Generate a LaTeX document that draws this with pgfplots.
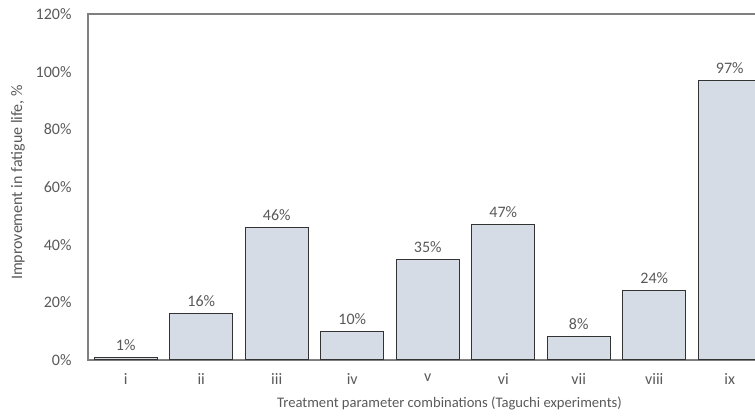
\documentclass[border=0pt]{standalone}
\usepackage{pgfplots}
\pgfplotsset{compat=1.18}
\usepackage{fontspec}
\setmainfont{Carlito}
\definecolor{barfill}{HTML}{D6DCE5}
\definecolor{txt}{HTML}{595959}
\definecolor{framegray}{HTML}{7F7F7F}
\begin{document}
\begin{tikzpicture}
\begin{axis}[
    scale only axis,
    width=679.5pt, height=346pt,
    xmin=-0.5, xmax=8.5,
    ymin=0, ymax=120,
    ybar, bar width=63pt,
    xtick={0,...,8},
    xticklabels={i,ii,iii,iv,v,vi,vii,viii,ix},
    ytick={0,20,...,120},
    yticklabel={\pgfmathprintnumber{\tick}\%},
    /pgf/number format/assume math mode=true,
    major tick length=0pt,
    axis line style={framegray, line width=1.3pt},
    tick label style={font=\fontsize{16}{18}\selectfont, text=txt},
    xticklabel style={yshift=-10pt},
    yticklabel style={xshift=-13pt},
    xlabel={Treatment parameter combinations (Taguchi experiments)},
    ylabel={Improvement in fatigue life, \%},
    xlabel style={at={(axis description cs:0.532,0)}, anchor=center, yshift=-43pt,
        font=\fontsize{14.6}{17}\selectfont, text=txt},
    ylabel style={at={(axis description cs:-0.103,0.513)}, anchor=center,
        font=\fontsize{16}{18}\selectfont, text=txt},
    nodes near coords={\pgfmathprintnumber{\pgfplotspointmeta}\%},
    nodes near coords style={font=\fontsize{16}{18}\selectfont, text=txt, yshift=3pt},
]
\addplot[fill=barfill, draw=black!80, line width=1.1pt] coordinates {
    (0,1) (1,16) (2,46) (3,10) (4,35) (5,47) (6,8) (7,24) (8,97)
};
\end{axis}
\pgfresetboundingbox
\path[use as bounding box] ([shift={(-88pt,-57pt)}]current axis.south west)
    rectangle ([shift={(667pt,360pt)}]current axis.south west);
\end{tikzpicture}
\end{document}
